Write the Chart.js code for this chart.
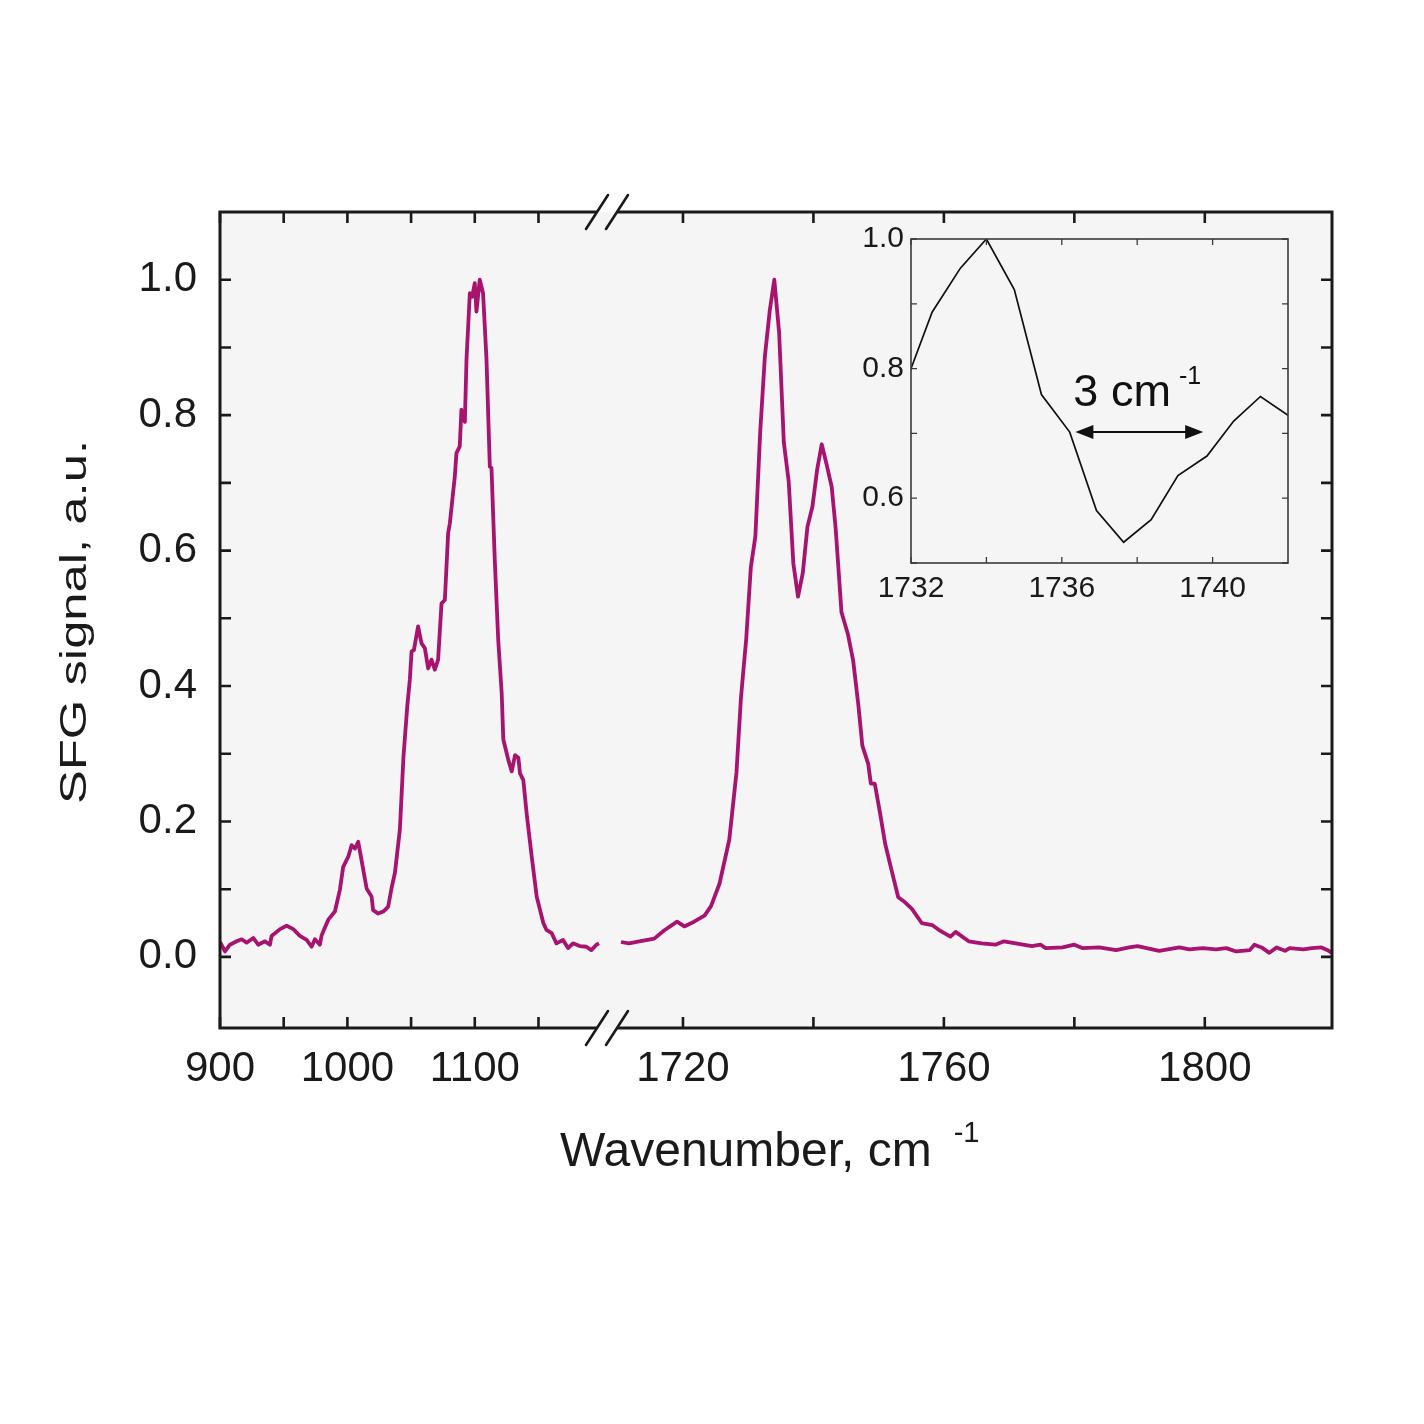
<!DOCTYPE html>
<html>
<head>
<meta charset="utf-8">
<script src="https://cdn.jsdelivr.net/npm/chart.js@4.4.1/dist/chart.umd.min.js"></script>
<style>
  html, body { margin: 0; padding: 0; background: #ffffff; }
  #wrap { position: relative; width: 1424px; height: 1424px; }
  #mainChart { position: absolute; left: 0; top: 0; }
  #insetChart { position: absolute; left: 840px; top: 209px; }
</style>
</head>
<body>
<div id="wrap">
  <canvas id="mainChart" width="1424" height="1424"></canvas>
  <canvas id="insetChart" width="470" height="416"></canvas>
</div>
<script>
// ---- datos: segmento izquierdo (900–1200 cm-1) ----
const leftWavenumber = [900, 903.9, 907.8, 913.1, 917.0, 920.9, 926.1, 930.0, 935.3, 939.2, 940.5, 947.1, 952.3, 957.5, 962.7, 968.0, 971.9, 974.5, 978.4, 979.8,
  985.0, 990.2, 994.1, 996.7, 1000.7, 1003.3, 1006.0, 1008.5, 1011.1, 1015.1, 1019.0, 1020.2, 1024.2, 1028.1, 1032.0, 1034.6, 1037.3, 1041.2, 1044.0, 1047.0,
  1049.0, 1050.4, 1052.2, 1055.5, 1058.2, 1060.8, 1063.4, 1066.0, 1068.6, 1071.2, 1073.9, 1076.5, 1079.1, 1080.4, 1084.3, 1085.6, 1088.2, 1089.5, 1092.2, 1093.5,
  1096.1, 1098.0, 1100.0, 1101.3, 1103.9, 1106.5, 1109.2, 1111.8, 1113.1, 1115.7, 1118.4, 1121.1, 1122.4, 1126.3, 1129.0, 1131.6, 1134.2, 1135.5, 1138.1, 1140.7,
  1144.7, 1148.6, 1153.8, 1156.2, 1160.4, 1164.1, 1169.3, 1173.2, 1177.1, 1182.4, 1187.6, 1191.5, 1195.5, 1197.5];
const leftSignal = [0.022, 0.008, 0.018, 0.023, 0.026, 0.021, 0.028, 0.018, 0.023, 0.018, 0.031, 0.041, 0.046, 0.041, 0.031, 0.025, 0.015, 0.026, 0.018, 0.032,
  0.055, 0.067, 0.099, 0.133, 0.148, 0.165, 0.160, 0.170, 0.143, 0.101, 0.089, 0.069, 0.064, 0.067, 0.074, 0.101, 0.124, 0.188, 0.295, 0.370,
  0.409, 0.451, 0.453, 0.488, 0.463, 0.456, 0.426, 0.439, 0.424, 0.439, 0.522, 0.527, 0.626, 0.640, 0.709, 0.744, 0.754, 0.808, 0.790, 0.882,
  0.980, 0.975, 0.995, 0.953, 1.000, 0.980, 0.882, 0.724, 0.722, 0.586, 0.468, 0.390, 0.321, 0.291, 0.274, 0.298, 0.294, 0.271, 0.261, 0.212,
  0.148, 0.089, 0.050, 0.040, 0.035, 0.020, 0.025, 0.013, 0.020, 0.016, 0.015, 0.010, 0.018, 0.020];

// ---- datos: segmento derecho (1710–1820 cm-1) ----
const rightWavenumber = [1710.5, 1711.7, 1713.3, 1715.6, 1717.1, 1719.1, 1720.2, 1721.7, 1723.3, 1724.3, 1725.6, 1727.1, 1728.2, 1728.9, 1729.7, 1730.4, 1731.1,
  1731.84, 1732.56, 1733.31, 1734.0, 1734.74, 1735.46, 1736.21, 1736.92, 1737.64, 1738.37, 1739.08, 1739.85, 1740.56, 1741.27, 1742.0, 1742.8, 1743.4,
  1744.3, 1745.3, 1746.1, 1746.9, 1747.5, 1748.4, 1748.8, 1749.4, 1750.2, 1751.0, 1752.0, 1753.0, 1754.0, 1755.1, 1756.6, 1758.2, 1759.2, 1761.0, 1761.8,
  1763.8, 1765.8, 1767.9, 1769.2, 1771.0, 1773.5, 1774.8, 1775.6, 1778.2, 1780.0, 1781.2, 1783.8, 1786.4, 1788.4, 1789.7, 1793.0, 1796.1, 1797.6, 1799.7,
  1801.7, 1803.3, 1804.8, 1806.9, 1807.6, 1808.7, 1809.9, 1811.0, 1812.3, 1813.0, 1815.1, 1816.4, 1817.9, 1819.0, 1819.5];
const rightSignal = [0.022, 0.020, 0.023, 0.027, 0.039, 0.052, 0.045, 0.052, 0.061, 0.075, 0.108, 0.173, 0.272, 0.384, 0.470, 0.575, 0.621,
  0.775, 0.887, 0.955, 1.000, 0.922, 0.760, 0.702, 0.581, 0.532, 0.567, 0.635, 0.665, 0.719, 0.757, 0.728, 0.694, 0.634,
  0.509, 0.476, 0.437, 0.371, 0.312, 0.285, 0.256, 0.256, 0.213, 0.167, 0.127, 0.088, 0.081, 0.071, 0.050, 0.047, 0.040, 0.030, 0.037,
  0.023, 0.020, 0.018, 0.023, 0.020, 0.016, 0.018, 0.013, 0.014, 0.018, 0.013, 0.014, 0.010, 0.014, 0.016, 0.009, 0.014, 0.011, 0.013,
  0.011, 0.013, 0.008, 0.010, 0.018, 0.014, 0.006, 0.014, 0.009, 0.013, 0.011, 0.013, 0.014, 0.009, 0.006];

// ---- datos: recuadro (1732–1742 cm-1) ----
const insetWavenumber = [1731.84, 1732.56, 1733.31, 1734.00, 1734.74, 1735.46, 1736.21, 1736.92, 1737.64, 1738.37, 1739.08, 1739.85, 1740.56, 1741.27, 1742.00];
const insetSignal = [0.775, 0.887, 0.955, 1.000, 0.922, 0.760, 0.702, 0.581, 0.532, 0.567, 0.635, 0.665, 0.719, 0.757, 0.728];

// ---- ticks ----
const leftTicks = [900, 950, 1000, 1050, 1100, 1150];
const leftLabels = [900, 1000, 1100];
const rightTicks = [1720, 1740, 1760, 1780, 1800];
const rightLabels = [1720, 1760, 1800];
const yTicks = [0, 0.1, 0.2, 0.3, 0.4, 0.5, 0.6, 0.7, 0.8, 0.9, 1.0];
const yLabels = [0, 0.2, 0.4, 0.6, 0.8, 1.0];
const insetXTicks = [1732, 1734, 1736, 1738, 1740];
const insetXLabels = [1732, 1736, 1740];
const insetYTicks = [0.5, 0.6, 0.7, 0.8, 0.9, 1.0];
const insetYLabels = [0.6, 0.8, 1.0];
const fwhmFrom = 1736.36, fwhmTo = 1739.75, fwhmLevel = 0.702;

// ---- colores ----
const LINE_COLOR = '#a8136f';
const INK = '#1a1a1a';
const PLOT_BG = '#f5f5f5';
const FONT = '"Liberation Sans", Arial, sans-serif';

const toPoints = (xs, ys) => xs.map((x, i) => ({ x, y: ys[i] }));
const has = (list, v) => list.some(t => Math.abs(t - v) < 1e-6);

// ============================================
// Gráfica principal con eje x partido
// ============================================
const mainDecor = {
  id: 'mainDecor',
  beforeDatasetsDraw(chart) {
    const { ctx, chartArea: a } = chart;
    ctx.save();
    ctx.fillStyle = PLOT_BG;
    ctx.fillRect(a.left, a.top, a.right - a.left, a.bottom - a.top);
    ctx.restore();
  },
  afterDraw(chart) {
    const { ctx, chartArea: a, scales } = chart;
    const TL = 11;
    ctx.save();
    ctx.strokeStyle = INK;
    ctx.lineWidth = 2.6;
    ctx.lineCap = 'butt';
    ctx.beginPath();
    leftTicks.forEach(v => {
      const px = scales.xL.getPixelForValue(v);
      ctx.moveTo(px, a.bottom); ctx.lineTo(px, a.bottom - TL);
      ctx.moveTo(px, a.top); ctx.lineTo(px, a.top + TL);
    });
    rightTicks.forEach(v => {
      const px = scales.xR.getPixelForValue(v);
      ctx.moveTo(px, a.bottom); ctx.lineTo(px, a.bottom - TL);
      ctx.moveTo(px, a.top); ctx.lineTo(px, a.top + TL);
    });
    yTicks.forEach(v => {
      const py = scales.y.getPixelForValue(v);
      ctx.moveTo(a.left, py); ctx.lineTo(a.left + TL, py);
      ctx.moveTo(a.right, py); ctx.lineTo(a.right - TL, py);
    });
    ctx.stroke();

    // marco con corte
    const bx = scales.xL.right;
    const s1 = bx - 9, s2 = bx + 11;
    ctx.lineWidth = 3;
    ctx.beginPath();
    ctx.moveTo(s1, a.top); ctx.lineTo(a.left, a.top); ctx.lineTo(a.left, a.bottom); ctx.lineTo(s1, a.bottom);
    ctx.moveTo(s2, a.top); ctx.lineTo(a.right, a.top); ctx.lineTo(a.right, a.bottom); ctx.lineTo(s2, a.bottom);
    ctx.stroke();
    ctx.lineWidth = 2.6;
    ctx.lineCap = 'round';
    ctx.beginPath();
    [a.top, a.bottom].forEach(y => {
      [s1, s2].forEach(cx => {
        ctx.moveTo(cx - 11, y + 17); ctx.lineTo(cx + 11, y - 17);
      });
    });
    ctx.stroke();

    // títulos de ejes
    ctx.fillStyle = INK;
    ctx.font = '48px ' + FONT;
    ctx.textAlign = 'left';
    ctx.textBaseline = 'alphabetic';
    const xt = 'Wavenumber, cm';
    const xw = ctx.measureText(xt).width;
    const x0 = 560;
    ctx.fillText(xt, x0, 1166);
    ctx.font = '29px ' + FONT;
    ctx.fillText('-1', x0 + xw + 22, 1142);

    ctx.save();
    ctx.translate(86, (a.top + a.bottom) / 2 + 2);
    ctx.rotate(-Math.PI / 2);
    ctx.font = '36px ' + FONT;
    const yt = 'SFG signal, a.u.';
    const yw = ctx.measureText(yt).width;
    ctx.scale(364 / yw, 1);
    ctx.textAlign = 'center';
    ctx.fillText(yt, 0, 0);
    ctx.restore();
    ctx.restore();
  }
};

const tickFont = { family: FONT, size: 42 };

new Chart(document.getElementById('mainChart'), {
  type: 'scatter',
  data: {
    datasets: [
      {
        label: 'SFG 900–1200',
        data: toPoints(leftWavenumber, leftSignal),
        xAxisID: 'xL', yAxisID: 'y',
        showLine: true, borderColor: LINE_COLOR, borderWidth: 3.8,
        pointRadius: 0, tension: 0, borderJoinStyle: 'round'
      },
      {
        label: 'SFG 1710–1820',
        data: toPoints(rightWavenumber, rightSignal),
        xAxisID: 'xR', yAxisID: 'y',
        showLine: true, borderColor: LINE_COLOR, borderWidth: 3.8,
        pointRadius: 0, tension: 0, borderJoinStyle: 'round'
      }
    ]
  },
  options: {
    responsive: false,
    animation: false,
    devicePixelRatio: 1,
    layout: { padding: { left: 0, top: 212, right: 92, bottom: 296 } },
    plugins: { legend: { display: false }, tooltip: { enabled: false } },
    scales: {
      xL: {
        type: 'linear', position: 'bottom', stack: 'wn', stackWeight: 386,
        min: 900, max: 1203,
        grid: { display: false, drawTicks: false }, border: { display: false },
        afterBuildTicks: axis => { axis.ticks = leftTicks.map(v => ({ value: v })); },
        afterFit: axis => { axis.height = 100; },
        ticks: {
          autoSkip: false, maxRotation: 0, padding: 16, color: INK, font: tickFont,
          callback: v => has(leftLabels, v) ? String(v) : ''
        }
      },
      xR: {
        type: 'linear', position: 'bottom', stack: 'wn', stackWeight: 726,
        min: 1708.2, max: 1819.5,
        grid: { display: false, drawTicks: false }, border: { display: false },
        afterBuildTicks: axis => { axis.ticks = rightTicks.map(v => ({ value: v })); },
        afterFit: axis => { axis.height = 100; },
        ticks: {
          autoSkip: false, maxRotation: 0, padding: 16, color: INK, font: tickFont,
          callback: v => has(rightLabels, v) ? String(v) : ''
        }
      },
      y: {
        type: 'linear', position: 'left',
        min: -0.105, max: 1.1,
        grid: { display: false, drawTicks: false }, border: { display: false },
        afterBuildTicks: axis => { axis.ticks = yTicks.map(v => ({ value: v })); },
        afterFit: axis => { axis.width = 220; },
        ticks: {
          autoSkip: false, padding: 23, color: INK, font: tickFont,
          callback: v => has(yLabels, v) ? v.toFixed(1) : ''
        }
      }
    }
  },
  plugins: [mainDecor]
});

// ============================================
// Recuadro: zoom del pico a 1734 cm-1
// ============================================
const insetDecor = {
  id: 'insetDecor',
  afterDraw(chart) {
    const { ctx, chartArea: a, scales } = chart;
    const TL = 6;
    ctx.save();
    ctx.strokeStyle = '#3a3a3a';
    ctx.lineWidth = 1.3;
    ctx.beginPath();
    insetXTicks.forEach(v => {
      const px = scales.x.getPixelForValue(v);
      ctx.moveTo(px, a.bottom); ctx.lineTo(px, a.bottom - TL);
      ctx.moveTo(px, a.top); ctx.lineTo(px, a.top + TL);
    });
    insetYTicks.forEach(v => {
      const py = scales.y.getPixelForValue(v);
      ctx.moveTo(a.left, py); ctx.lineTo(a.left + TL, py);
      ctx.moveTo(a.right, py); ctx.lineTo(a.right - TL, py);
    });
    ctx.stroke();
    ctx.lineWidth = 1.6;
    ctx.strokeRect(a.left, a.top, a.right - a.left, a.bottom - a.top);

    // flecha del ancho
    const xa = scales.x.getPixelForValue(fwhmFrom);
    const xb = scales.x.getPixelForValue(fwhmTo);
    const ya = scales.y.getPixelForValue(fwhmLevel);
    ctx.strokeStyle = '#111';
    ctx.fillStyle = '#111';
    ctx.lineWidth = 2;
    ctx.beginPath();
    ctx.moveTo(xa + 10, ya); ctx.lineTo(xb - 10, ya);
    ctx.stroke();
    ctx.beginPath();
    ctx.moveTo(xa, ya); ctx.lineTo(xa + 18, ya - 7); ctx.lineTo(xa + 18, ya + 7); ctx.closePath();
    ctx.moveTo(xb, ya); ctx.lineTo(xb - 18, ya - 7); ctx.lineTo(xb - 18, ya + 7); ctx.closePath();
    ctx.fill();

    ctx.font = '45px ' + FONT;
    ctx.textAlign = 'left';
    ctx.textBaseline = 'alphabetic';
    const lbl = '3 cm';
    const lw = ctx.measureText(lbl).width;
    ctx.fillText(lbl, xa - 2, ya - 26);
    ctx.font = '25px ' + FONT;
    ctx.fillText('-1', xa + lw + 6, ya - 48);
    ctx.restore();
  }
};

const insetFont = { family: FONT, size: 30 };

new Chart(document.getElementById('insetChart'), {
  type: 'scatter',
  data: {
    datasets: [{
      label: 'Recuadro',
      data: toPoints(insetWavenumber, insetSignal),
      showLine: true, borderColor: '#111111', borderWidth: 1.7,
      pointRadius: 0, tension: 0
    }]
  },
  options: {
    responsive: false,
    animation: false,
    devicePixelRatio: 1,
    layout: { padding: { left: 0, top: 30, right: 22, bottom: 12 } },
    plugins: { legend: { display: false }, tooltip: { enabled: false } },
    scales: {
      x: {
        type: 'linear', min: 1732, max: 1742,
        grid: { display: false, drawTicks: false }, border: { display: false },
        afterBuildTicks: axis => { axis.ticks = insetXTicks.map(v => ({ value: v })); },
        afterFit: axis => { axis.height = 50; },
        ticks: {
          autoSkip: false, maxRotation: 0, padding: 8, color: INK, font: insetFont,
          callback: v => has(insetXLabels, v) ? String(v) : ''
        }
      },
      y: {
        type: 'linear', min: 0.5, max: 1.0,
        grid: { display: false, drawTicks: false }, border: { display: false },
        afterBuildTicks: axis => { axis.ticks = insetYTicks.map(v => ({ value: v })); },
        afterFit: axis => { axis.width = 71; },
        ticks: {
          autoSkip: false, padding: 7, color: INK, font: insetFont,
          callback: v => has(insetYLabels, v) ? v.toFixed(1) : ''
        }
      }
    }
  },
  plugins: [insetDecor]
});
</script>
</body>
</html>
